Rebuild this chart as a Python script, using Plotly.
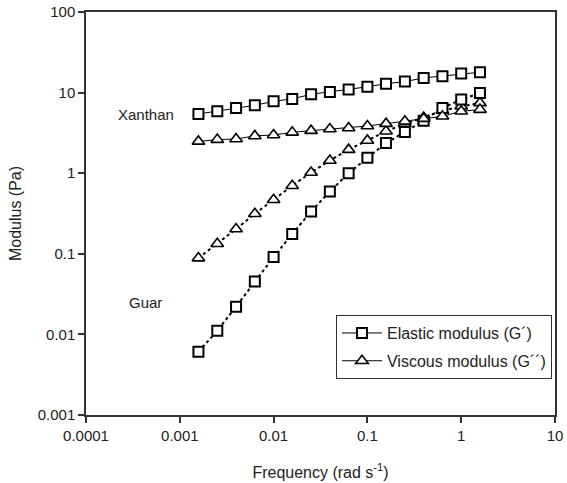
import plotly.graph_objects as go

# Frequency (rad s^-1)
frequency = [0.00158, 0.00251, 0.00398, 0.00631, 0.0100, 0.0158, 0.0251, 0.0398,
             0.0631, 0.100, 0.158, 0.251, 0.398, 0.631, 1.00, 1.585]

# Xanthan
xanthan_g1 = [5.43, 5.86, 6.46, 6.95, 7.80, 8.35, 9.52, 10.2,
              10.9, 11.8, 12.9, 13.7, 15.2, 16.0, 17.2, 17.9]
xanthan_g2 = [2.48, 2.61, 2.66, 2.90, 2.98, 3.21, 3.37, 3.54,
              3.64, 3.85, 4.12, 4.40, 4.75, 5.08, 5.86, 6.15]

# Guar
guar_g1 = [0.0061, 0.0111, 0.0221, 0.0453, 0.091, 0.176, 0.335, 0.594,
           1.00, 1.55, 2.37, 3.25, 4.49, 6.46, 8.19, 9.90]
guar_g2 = [0.0885, 0.133, 0.203, 0.314, 0.469, 0.700, 1.02, 1.44,
           1.96, 2.55, 3.31, 4.12, 4.90, 6.00, 6.76, 7.45]

x_tickvals = [0.0001, 0.001, 0.01, 0.1, 1, 10]
x_ticktext = ["0.0001", "0.001", "0.01", "0.1", "1", "10"]
y_tickvals = [0.001, 0.01, 0.1, 1, 10, 100]
y_ticktext = ["0.001", "0.01", "0.1", "1", "10", "100"]

FONT = "Liberation Sans, Arial, sans-serif"

sq = dict(symbol="square", size=10, color="white", line=dict(color="black", width=2))
tri = dict(symbol="triangle-up", size=11, color="white", line=dict(color="black", width=1.6))

fig = go.Figure()
fig.add_trace(go.Scatter(x=frequency, y=guar_g2, mode="lines+markers",
                         line=dict(color="black", width=2, dash="dot"), marker=tri,
                         showlegend=False))
fig.add_trace(go.Scatter(x=frequency, y=guar_g1, mode="lines+markers",
                         line=dict(color="black", width=2, dash="dot"), marker=sq,
                         showlegend=False))
fig.add_trace(go.Scatter(x=frequency, y=xanthan_g2, mode="lines+markers",
                         line=dict(color="black", width=1), marker=tri,
                         name="Viscous modulus (G´´)", legendgroup="b", legendrank=2))
fig.add_trace(go.Scatter(x=frequency, y=xanthan_g1, mode="lines+markers",
                         line=dict(color="black", width=1), marker=sq,
                         name="Elastic modulus (G´)", legendgroup="a", legendrank=1))

fig.add_annotation(x=-3.36, y=0.727, xref="x", yref="y", text="Xanthan",
                   showarrow=False, xanchor="center", yanchor="middle",
                   font=dict(size=15, color="#222"))
fig.add_annotation(x=-3.37, y=-1.60, xref="x", yref="y", text="Guar",
                   showarrow=False, xanchor="center", yanchor="middle",
                   font=dict(size=15, color="#222"))

fig.update_layout(
    width=567, height=483,
    margin=dict(l=86, r=12, t=12, b=68),
    paper_bgcolor="white", plot_bgcolor="white",
    font=dict(family=FONT, size=15, color="#222"),
    showlegend=True,
    legend=dict(x=0.533, y=0.248, xanchor="left", yanchor="top",
                bordercolor="#333", borderwidth=1, bgcolor="white",
                font=dict(size=16), traceorder="grouped", tracegroupgap=4,
                itemwidth=40),
)
fig.update_xaxes(type="log", range=[-4, 1], tickvals=x_tickvals, ticktext=x_ticktext,
                 showgrid=False, zeroline=False, showline=True, linecolor="#333",
                 linewidth=1.5, mirror=True, ticks="outside", ticklen=6,
                 tickcolor="#333", tickwidth=1.5, automargin=False,
                 tickfont=dict(size=15),
                 title=dict(text="Frequency (rad s<sup>-1</sup>)", standoff=24,
                            font=dict(size=16)))
fig.update_yaxes(type="log", range=[-3, 2], tickvals=y_tickvals, ticktext=y_ticktext,
                 showgrid=False, zeroline=False, showline=True, linecolor="#333",
                 linewidth=1.5, mirror=True, ticks="outside", ticklen=6,
                 tickcolor="#333", tickwidth=1.5, automargin=False,
                 tickfont=dict(size=15),
                 title=dict(text="Modulus (Pa)", standoff=12, font=dict(size=16)))

fig.write_html("out.html")
